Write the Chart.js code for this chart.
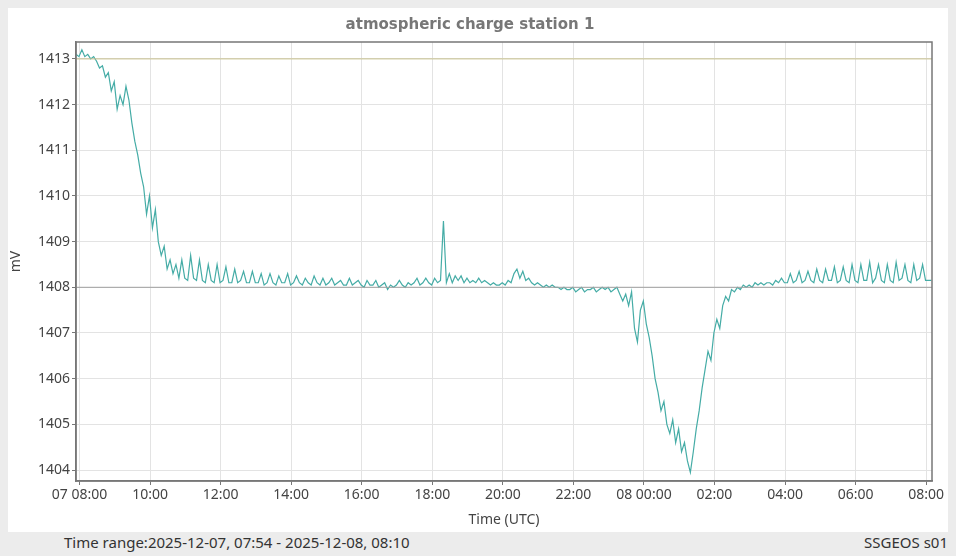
<!DOCTYPE html>
<html><head><meta charset="utf-8">
<script src="https://cdn.jsdelivr.net/npm/chart.js@4"></script>
<style>
body{margin:0;background:#ececec;width:956px;height:556px;position:relative;overflow:hidden;font-family:"Noto Sans",sans-serif}
#panel{position:absolute;left:8px;top:8px;width:940px;height:524px;background:#fff}
.foot{position:absolute;top:532px;font-size:15px;color:#333}
</style></head><body>
<div id="panel"><canvas id="c" width="940" height="524"></canvas></div>
<div class="foot" style="left:64px">Time range:2025-12-07, 07:54 - 2025-12-08, 08:10</div>
<div class="foot" style="right:8px">SSGEOS s01</div>
<script>
const startLabel = '07:54';
const stepMinutes = 5;
const values = [
1413.1,1413.05,1413.2,1413.05,1413.1,1413.0,1413.05,1412.95,1412.8,1412.85,1412.6,1412.7,
1412.3,1412.5,1411.9,1412.2,1412.0,1412.4,1412.1,1411.6,1411.2,1410.9,1410.5,1410.2,
1409.6,1410.0,1409.3,1409.7,1409.0,1408.7,1408.9,1408.4,1408.6,1408.3,1408.5,1408.2,
1408.6,1408.2,1408.15,1408.7,1408.2,1408.15,1408.6,1408.15,1408.1,1408.5,1408.15,1408.1,
1408.5,1408.1,1408.15,1408.45,1408.1,1408.1,1408.4,1408.1,1408.15,1408.35,1408.1,1408.1,
1408.35,1408.1,1408.1,1408.3,1408.05,1408.1,1408.3,1408.1,1408.05,1408.25,1408.1,1408.1,
1408.3,1408.05,1408.1,1408.25,1408.1,1408.05,1408.2,1408.1,1408.05,1408.25,1408.1,1408.05,
1408.2,1408.05,1408.1,1408.2,1408.05,1408.1,1408.15,1408.05,1408.05,1408.2,1408.05,1408.1,
1408.15,1408.05,1408.0,1408.15,1408.05,1408.05,1408.15,1408.0,1408.05,1408.1,1407.95,1408.05,
1408.0,1408.05,1408.15,1408.05,1408.0,1408.1,1408.05,1408.1,1408.2,1408.05,1408.1,1408.2,
1408.1,1408.05,1408.2,1408.1,1408.15,1409.45,1408.1,1408.3,1408.1,1408.25,1408.15,1408.25,
1408.1,1408.2,1408.1,1408.15,1408.1,1408.2,1408.1,1408.15,1408.1,1408.05,1408.1,1408.05,
1408.05,1408.1,1408.05,1408.15,1408.1,1408.3,1408.4,1408.2,1408.35,1408.15,1408.2,1408.1,
1408.05,1408.1,1408.05,1408.0,1408.05,1408.0,1408.05,1408.0,1408.0,1407.95,1408.0,1407.95,
1407.95,1408.0,1407.9,1407.95,1408.0,1407.9,1407.95,1407.95,1408.0,1407.9,1407.95,1408.0,
1407.95,1408.0,1407.9,1407.95,1408.0,1407.85,1407.7,1407.85,1407.6,1407.9,1407.1,1406.8,
1407.5,1407.7,1407.2,1406.9,1406.5,1406.0,1405.7,1405.3,1405.5,1405.0,1404.8,1405.1,
1404.6,1404.9,1404.4,1404.6,1404.2,1403.95,1404.4,1404.9,1405.3,1405.8,1406.2,1406.6,
1406.4,1407.0,1407.3,1407.1,1407.6,1407.8,1407.7,1407.95,1407.9,1408.0,1407.95,1408.05,
1408.0,1408.05,1408.0,1408.1,1408.05,1408.1,1408.05,1408.1,1408.1,1408.05,1408.15,1408.1,
1408.2,1408.1,1408.1,1408.3,1408.1,1408.15,1408.35,1408.1,1408.15,1408.35,1408.15,1408.1,
1408.4,1408.15,1408.1,1408.4,1408.15,1408.15,1408.45,1408.1,1408.15,1408.45,1408.15,1408.1,
1408.5,1408.15,1408.1,1408.5,1408.15,1408.15,1408.55,1408.1,1408.2,1408.5,1408.15,1408.1,
1408.5,1408.15,1408.1,1408.55,1408.15,1408.2,1408.5,1408.15,1408.1,1408.5,1408.15,1408.2,
1408.5,1408.15,1408.15,1408.15
];
const tickLabels = ['07 08:00','10:00','12:00','14:00','16:00','18:00','20:00','22:00','08 00:00','02:00','04:00','06:00','08:00'];
const tickMinutes = [6,126,246,366,486,606,726,846,966,1086,1206,1326,1446];
const yTicks = [1404,1405,1406,1407,1408,1409,1410,1411,1412,1413];
const refLines = [1413, 1408];
const xMax = 1456;

const pts = values.map((v,i)=>({x:i*stepMinutes,y:v}));
const FONT = {family:'"Noto Sans", sans-serif', size:13};
new Chart(document.getElementById('c'),{
  type:'line',
  data:{datasets:[
    {data:[{x:0,y:refLines[0]},{x:xMax,y:refLines[0]}],borderColor:'#c9c28e',borderWidth:1,pointRadius:0},
    {data:[{x:0,y:refLines[1]},{x:xMax,y:refLines[1]}],borderColor:'#a0a0a0',borderWidth:1,pointRadius:0},
    {data:pts,borderColor:'#45aca6',borderWidth:1.2,pointRadius:0,tension:0}
  ]},
  options:{
    responsive:false,animation:false,
    layout:{padding:{right:16,top:0}},
    plugins:{legend:{display:false},tooltip:{enabled:false},
      title:{display:true,text:'atmospheric charge station 1',color:'#777',font:{family:'"DejaVu Sans", sans-serif',size:15,weight:'bold'},padding:{top:8,bottom:8}}},
    scales:{
      x:{type:'linear',min:0,max:xMax,
        afterBuildTicks:s=>{s.ticks=tickMinutes.map(v=>({value:v}));},
        afterFit:s=>{s.height=51;},
        ticks:{callback:(v)=>tickLabels[tickMinutes.indexOf(v)],color:'#444',font:{...FONT,size:14},maxRotation:0,autoSkip:false,padding:2},
        grid:{color:'#e3e3e3',tickColor:'#777',tickLength:4},
        border:{color:'#777',width:1.5},
        title:{display:true,text:'Time (UTC)',color:'#444',font:{...FONT,size:14},padding:{top:0}}},
      y:{min:1403.76,max:1413.37,
        afterBuildTicks:s=>{s.ticks=yTicks.map(v=>({value:v}));},
        afterFit:s=>{s.width=68;},
        ticks:{callback:v=>String(v),color:'#444',font:{...FONT,size:14},padding:2},
        grid:{color:'#e3e3e3',tickColor:'#777',tickLength:4},
        border:{color:'#777',width:1.5},
        title:{display:true,text:'mV',color:'#444',font:{...FONT,size:14},padding:0}}
    }
  },
  plugins:[{id:'box',afterDraw(c){const a=c.chartArea,x=c.ctx;x.save();x.strokeStyle='#777';x.lineWidth=1.5;x.strokeRect(a.left,a.top,a.right-a.left,a.bottom-a.top);x.restore();}}]
});
</script></body></html>
